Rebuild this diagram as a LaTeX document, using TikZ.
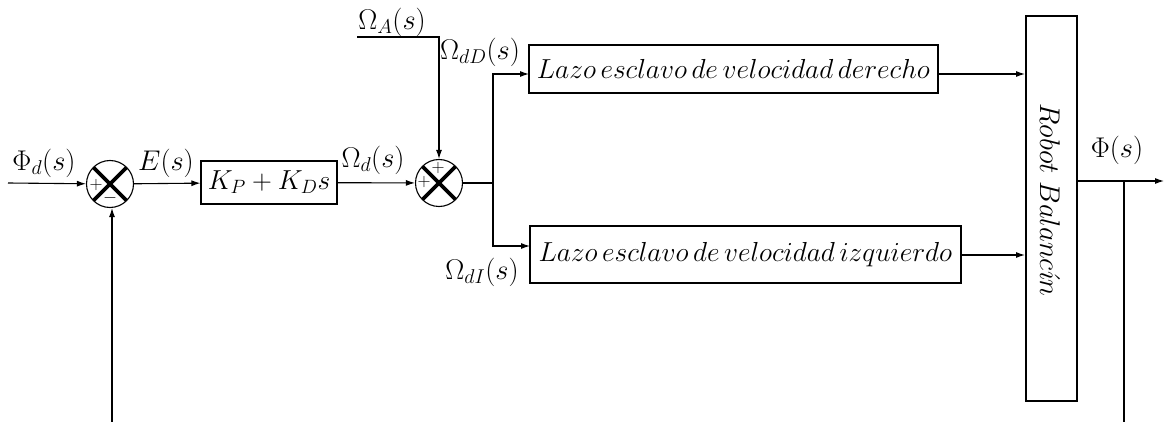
\documentclass[tikz,border=0pt]{standalone}
\usepackage{fix-cm}
\usetikzlibrary{arrows.meta}
\begin{document}
\begin{tikzpicture}[x=1pt,y=-1pt,
  txt/.style={font=\fontsize{28.5}{32}\selectfont, inner sep=0},
  blk/.style={draw, line width=1.1pt, inner sep=0, font=\fontsize{27.5}{32}\selectfont},
  sumn/.style={draw, circle, minimum size=47pt, inner sep=0, line width=1.1pt,
    path picture={\draw[line width=3.8pt]
      (path picture bounding box.north west) -- (path picture bounding box.south east)
      (path picture bounding box.north east) -- (path picture bounding box.south west);}},
  sig/.style={-{Latex[length=9pt,width=6pt]}, line width=1.1pt},
  wire/.style={line width=1.1pt},
  pm/.style={font=\fontsize{18}{20}\selectfont, inner sep=0}]
\useasboundingbox (0,0) rectangle (1164,422);

% summing junctions
\node[sumn] (s1) at (110,184) {};
\node[pm] (s1p) at (96,185) {$+$};
\node[pm] (s1m) at (110,198) {$-$};
\node[sumn] (s2) at (439,183) {};
\node[pm] (s2p) at (424,182) {$+$};
\node[pm] (s2q) at (438,168) {$+$};

% blocks
\node[blk, minimum width=136pt, minimum height=43pt] (K) at (269,182.5) {$K_P+K_Ds$};
\node[blk, minimum width=409pt, minimum height=48pt] (up) at (733.5,69) {$Lazo\,esclavo\,de\,velocidad\,derecho$};
\node[blk, minimum width=431pt, minimum height=57pt] (lo) at (745.5,254.5) {$Lazo\,esclavo\,de\,velocidad\,izquierdo$};
\node[blk, minimum width=51pt, minimum height=385pt] (rb) at (1051.5,208.5) {};
\node[txt, rotate=-90] (rbt) at (1050,200) {$Robot\;Balanc\acute{\imath}n$};

% labels
\node[txt] (lphid) at (44,163) {$\Phi_d(s)$};
\node[txt] (le) at (166,163) {$E(s)$};
\node[txt] (lwd) at (373,160) {$\Omega_d(s)$};
\node[txt] (lwa) at (392,22) {$\Omega_A(s)$};
\node[txt] (lwdd) at (480,52) {$\Omega_{dD}(s)$};
\node[txt] (lwdi) at (482,272) {$\Omega_{dI}(s)$};
\node[txt] (lphi) at (1117,150) {$\Phi(s)$};

% coordinates
\coordinate (in) at (8,183);
\coordinate (wa) at (357,37);
\coordinate (br) at (493,183);
\coordinate (upin) at (529,74);
\coordinate (loin) at (530,246);
\coordinate (upout) at (938,74);
\coordinate (upend) at (1025,74);
\coordinate (loout) at (961,255);
\coordinate (loend) at (1025,255);
\coordinate (outst) at (1077,181);
\coordinate (out) at (1164,181);
\coordinate (fb) at (1124,181);
\coordinate (fbb) at (1124,422);
\coordinate (fbl) at (112,422);

% connectors
\draw[sig] (in) -- (s1);
\draw[sig] (s1) -- (K);
\draw[sig] (K) -- (s2);
\draw[sig] (wa) -| (s2);
\draw[wire] (s2) -- (br);
\draw[sig] (br) |- (upin);
\draw[sig] (br) |- (loin);
\draw[sig] (upout) -- (upend);
\draw[sig] (loout) -- (loend);
\draw[sig] (outst) -- (out);
\draw[wire] (fb) -- (fbb);
\draw[sig] (fbl) -- (fbl |- s1.south);
\end{tikzpicture}
\end{document}
